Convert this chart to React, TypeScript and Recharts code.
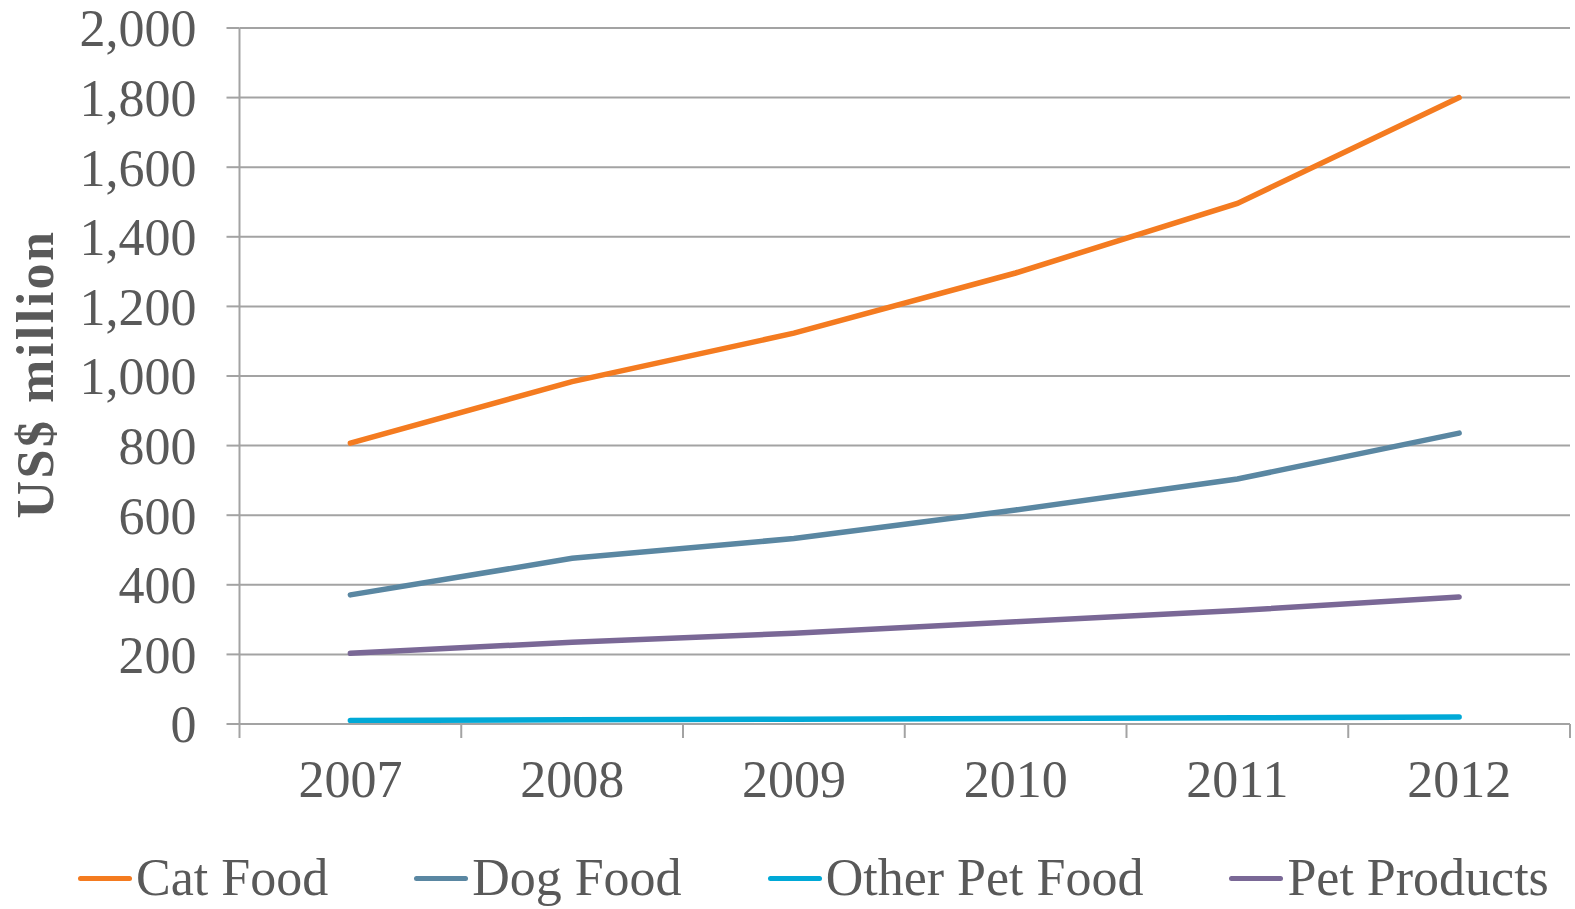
import React from 'react';
import { LineChart, Line, XAxis, YAxis, CartesianGrid } from 'recharts';

const years = ['2007', '2008', '2009', '2010', '2011', '2012'];
const catFood = [807, 984, 1123, 1296, 1496, 1800];
const dogFood = [371, 476, 533, 615, 704, 836];
const otherPetFood = [10, 12, 14, 16, 18, 20];
const petProducts = [203, 235, 261, 294, 326, 365];
const yTicks = [0, 200, 400, 600, 800, 1000, 1200, 1400, 1600, 1800, 2000];

const series = [
  { key: 'catFood', name: 'Cat Food', color: '#f47b20', values: catFood },
  { key: 'dogFood', name: 'Dog Food', color: '#5a87a2', values: dogFood },
  { key: 'otherPetFood', name: 'Other Pet Food', color: '#00a9d7', values: otherPetFood },
  { key: 'petProducts', name: 'Pet Products', color: '#7a6896', values: petProducts },
];

const data = years.map((year, i) => {
  const row: Record<string, string | number> = { year };
  series.forEach((s) => {
    row[s.key] = s.values[i];
  });
  return row;
});

const W = 1575;
const H = 909;
const FONT = '"Liberation Serif", "Times New Roman", serif';
const TEXT = '#595959';
const GRID = '#a3a3a3';

const margin = { top: 28, right: 5, bottom: 0, left: 0 };
const yAxisWidth = 239.5;
const xAxisHeight = H - 724;
// each year gets an equal band, points sit in the middle of it
const band = (W - margin.right - yAxisWidth) / years.length;

// year label centred in its band, tick marks on the band edges
function YearTick(props: any) {
  const { x, y, payload, index } = props;
  const left = x - band / 2;
  return (
    <g>
      <line x1={left} y1={y} x2={left} y2={y + 14} stroke={GRID} strokeWidth={2} />
      {index === years.length - 1 && (
        <line x1={x + band / 2} y1={y} x2={x + band / 2} y2={y + 14} stroke={GRID} strokeWidth={2} />
      )}
      <text x={x} y={y + 73} textAnchor="middle" fontFamily={FONT} fontSize={52} fill={TEXT}>
        {payload.value}
      </text>
    </g>
  );
}

function AxisTitle() {
  const cx = 53;
  const cy = 374;
  return (
    <text
      x={cx}
      y={cy}
      transform={`rotate(-90, ${cx}, ${cy})`}
      textAnchor="middle"
      fontFamily={FONT}
      fontWeight="bold"
      fontSize={52}
      letterSpacing={2.5}
      fill={TEXT}
    >
      US$ million
    </text>
  );
}

export default function App() {
  return (
    <div style={{ position: 'absolute', left: 0, top: 0, width: W, height: H, background: '#fff' }}>
      <LineChart width={W} height={H} data={data} margin={margin}>
        <CartesianGrid vertical={false} stroke={GRID} strokeWidth={2} />
        <XAxis
          dataKey="year"
          height={xAxisHeight}
          padding={{ left: band / 2, right: band / 2 }}
          axisLine={{ stroke: GRID, strokeWidth: 2 }}
          tickLine={false}
          tickSize={0}
          tickMargin={0}
          interval={0}
          tick={<YearTick />}
        />
        <YAxis
          width={yAxisWidth}
          domain={[0, 2000]}
          ticks={yTicks}
          interval={0}
          axisLine={{ stroke: GRID, strokeWidth: 2 }}
          tickLine={{ stroke: GRID, strokeWidth: 2 }}
          tickSize={13}
          tickMargin={30}
          tick={{ fontFamily: FONT, fontSize: 52, fill: TEXT }}
          tickFormatter={(v: number) => v.toLocaleString('en-US')}
          label={{ content: () => <AxisTitle /> }}
        />
        {series.map((s) => (
          <Line
            key={s.key}
            dataKey={s.key}
            name={s.name}
            stroke={s.color}
            strokeWidth={5.5}
            strokeLinecap="round"
            dot={false}
            activeDot={false}
            isAnimationActive={false}
          />
        ))}
      </LineChart>

      <div
        style={{
          position: 'absolute',
          left: 78,
          top: 852,
          display: 'flex',
          gap: 86,
          fontFamily: FONT,
          fontSize: 52,
          lineHeight: '52px',
          color: TEXT,
          whiteSpace: 'nowrap',
        }}
      >
        {series.map((s) => (
          <div key={s.key} style={{ display: 'flex', alignItems: 'center', gap: 4 }}>
            <span style={{ display: 'inline-block', width: 54, height: 5, borderRadius: 3, background: s.color }} />
            <span>{s.name}</span>
          </div>
        ))}
      </div>
    </div>
  );
}
